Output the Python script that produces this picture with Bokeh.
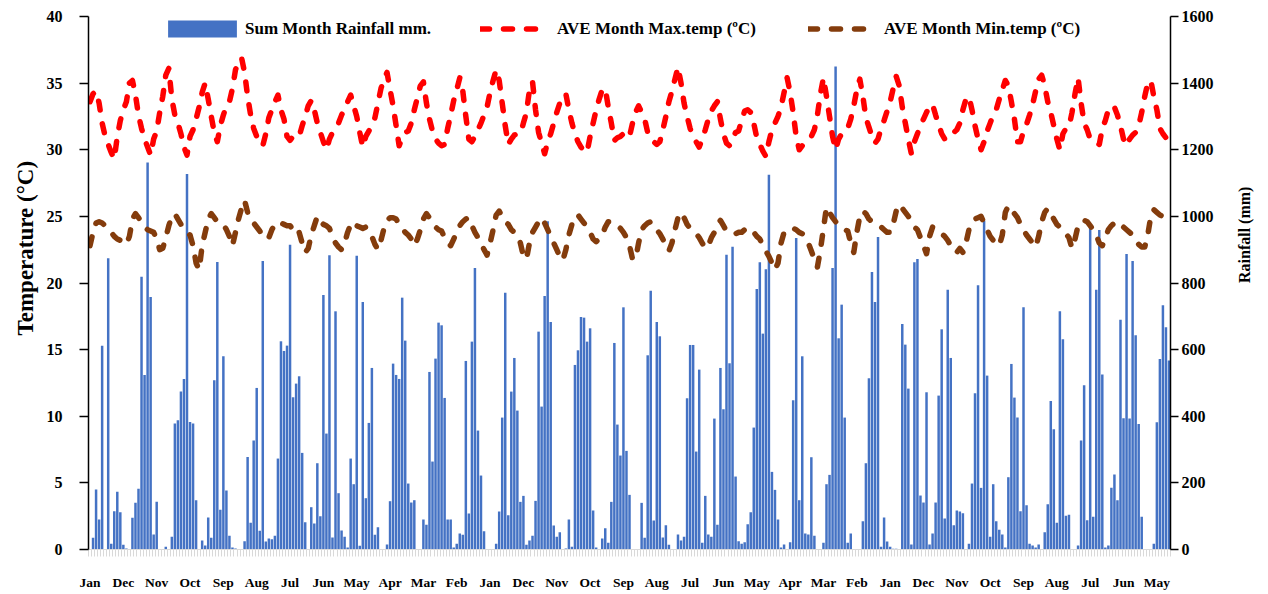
import math
from bokeh.plotting import figure
from bokeh.models import (Range1d, LinearAxis, FixedTicker, Legend, LegendItem,
                          ColumnDataSource, Title)
from bokeh.embed import file_html
from bokeh.resources import INLINE

# Monthly rainfall sum (mm), 357 months
rain = [
    0, 35, 180, 90, 612, 0, 874, 17, 115, 173, 112, 14,
    3, 0, 95, 140, 182, 819, 524, 1162, 758, 45, 143, 0,
    0, 8, 0, 38, 378, 388, 474, 512, 1127, 383, 378, 148,
    0, 27, 12, 96, 35, 508, 863, 119, 580, 177, 41, 6,
    3, 0, 0, 25, 278, 80, 327, 485, 56, 866, 24, 33,
    31, 41, 273, 625, 596, 612, 915, 457, 498, 520, 290, 82,
    0, 127, 78, 259, 100, 764, 348, 883, 36, 715, 169, 57,
    38, 6, 273, 196, 882, 11, 743, 154, 380, 545, 44, 67,
    0, 0, 15, 145, 558, 524, 512, 756, 627, 198, 141, 148,
    0, 0, 90, 74, 533, 264, 573, 681, 673, 455, 90, 90,
    6, 17, 48, 44, 566, 108, 624, 845, 357, 222, 55, 0,
    0, 0, 17, 114, 396, 771, 103, 474, 575, 417, 143, 161,
    14, 27, 41, 146, 654, 429, 761, 985, 683, 72, 38, 52,
    0, 3, 90, 8, 554, 598, 698, 696, 624, 664, 117, 6,
    0, 33, 64, 20, 143, 620, 375, 282, 727, 296, 164, 0,
    0, 0, 140, 35, 583, 777, 87, 683, 640, 36, 73, 14,
    1, 0, 45, 27, 38, 454, 614, 614, 294, 540, 20, 161,
    45, 38, 393, 74, 545, 421, 885, 559, 909, 219, 25, 17,
    22, 76, 112, 366, 782, 862, 648, 841, 1125, 233, 179, 90,
    6, 15, 0, 22, 448, 935, 148, 580, 48, 45, 277, 41,
    0, 0, 20, 196, 224, 845, 1450, 634, 735, 396, 20, 48,
    0, 0, 0, 85, 259, 514, 833, 743, 938, 8, 96, 24,
    8, 2, 2, 0, 677, 615, 483, 15, 862, 872, 162, 141,
    472, 15, 48, 141, 462, 661, 93, 780, 575, 73, 117, 114,
    109, 0, 17, 198, 469, 793, 185, 987, 522, 38, 196, 85,
    59, 45, 6, 217, 557, 456, 396, 115, 727, 133, 17, 12,
    6, 15, 0, 52, 136, 446, 361, 80, 715, 631, 101, 104,
    0, 0, 12, 327, 493, 88, 964, 98, 780, 959, 525, 6,
    12, 185, 225, 148, 690, 394, 887, 393, 866, 643, 377, 98,
    0, 0, 0, 17, 382, 572, 733, 667, 567,
]

# Monthly average maximum temperature (deg C)
tmax = [
    33.6, 34.2, 34.4, 33.5, 32.0, 31.0, 30.4, 29.8, 29.3, 31.0, 32.2, 33.0,
    33.6, 35.0, 35.2, 34.1, 32.6, 31.6, 30.8, 30.2, 29.6, 30.8, 31.4, 32.8,
    34.0, 35.6, 36.1, 33.8, 32.6, 32.0, 31.2, 30.2, 29.6, 31.0, 31.5, 32.3,
    33.2, 34.3, 35.0, 33.8, 32.5, 31.3, 30.6, 31.8, 32.6, 33.3, 33.6, 34.6,
    36.0, 36.6, 36.9, 35.8, 34.0, 32.6, 31.6, 31.0, 30.5, 30.3, 31.2, 32.4,
    33.0, 33.6, 34.1, 33.0, 32.3, 31.0, 30.7, 31.0, 31.1, 31.0, 31.8, 32.5,
    33.3, 33.7, 33.0, 32.0, 31.3, 30.6, 30.0, 30.8, 31.3, 31.6, 32.0, 32.6,
    33.1, 33.6, 34.1, 33.3, 32.5, 31.3, 30.2, 31.0, 31.4, 31.8, 32.4, 33.5,
    34.6, 35.3, 35.8, 34.5, 33.3, 31.8, 30.3, 30.9, 31.3, 31.4, 32.0, 33.0,
    33.9, 34.8, 35.1, 33.5, 32.3, 31.4, 30.8, 30.5, 30.3, 30.4, 31.6, 32.6,
    33.7, 34.5, 35.4, 34.4, 32.5, 30.8, 30.6, 31.0, 31.5, 32.0, 32.6, 33.2,
    34.3, 35.2, 36.0, 35.2, 33.5, 31.8, 30.4, 30.8, 31.1, 31.2, 31.2, 32.0,
    32.8, 34.5, 35.1, 33.0, 31.3, 30.5, 29.7, 30.6, 31.2, 32.0, 32.8, 33.5,
    34.0, 34.2, 33.0, 32.0, 31.2, 30.6, 30.2, 29.9, 29.8, 31.0, 32.0, 33.0,
    33.8, 34.5, 34.6, 33.2, 32.0, 30.7, 30.9, 31.0, 31.2, 31.3, 31.0, 32.0,
    32.8, 33.3, 32.8, 32.3, 31.3, 30.8, 30.6, 30.4, 30.6, 31.5, 32.5, 33.6,
    34.4, 35.3, 36.2, 35.0, 33.5, 32.5, 31.6, 31.0, 30.6, 30.2, 30.8, 31.5,
    32.3, 32.9, 33.3, 33.6, 32.3, 31.2, 30.5, 30.3, 30.8, 31.3, 31.4, 32.2,
    32.9, 33.0, 32.8, 32.0, 30.9, 30.4, 29.9, 29.5, 30.6, 31.5, 32.0, 32.5,
    33.2, 34.3, 35.4, 34.3, 32.8, 31.0, 30.0, 30.3, 30.6, 30.8, 31.0, 31.5,
    32.6, 34.2, 35.4, 34.0, 32.5, 31.0, 30.0, 30.8, 31.2, 31.5, 31.6, 32.3,
    33.3, 34.5, 35.3, 34.0, 32.4, 31.7, 31.0, 30.5, 30.8, 31.6, 32.2, 32.9,
    33.6, 34.6, 35.5, 34.8, 33.2, 32.0, 30.8, 29.7, 30.6, 31.2, 31.8, 32.3,
    32.8, 33.3, 33.4, 32.6, 31.9, 31.2, 30.8, 30.8, 31.1, 31.3, 31.5, 32.0,
    33.0, 33.8, 34.0, 33.0, 31.8, 30.8, 30.0, 30.6, 31.4, 32.0, 32.6, 33.0,
    33.8, 34.5, 35.2, 34.8, 33.6, 32.3, 30.6, 30.6, 31.4, 31.9, 32.6, 33.4,
    34.4, 35.3, 35.6, 34.8, 33.6, 32.8, 31.8, 30.8, 30.0, 31.2, 31.6, 31.7,
    32.8, 34.2, 35.4, 33.5, 32.0, 31.5, 30.8, 30.6, 30.5, 30.4, 31.6, 32.2,
    33.0, 33.3, 33.2, 32.6, 31.8, 30.8, 30.3, 30.8, 31.1, 31.3, 31.8, 32.8,
    34.0, 35.0, 35.2, 34.0, 33.0, 31.6, 31.2, 30.9, 30.8,
]

# Monthly average minimum temperature (deg C)
tmin = [
    22.8, 23.8, 24.5, 24.6, 24.5, 24.3, 24.0, 23.8, 23.5, 23.3, 23.2, 23.0,
    22.9, 23.5, 24.8, 25.2, 24.9, 24.6, 24.2, 24.0, 23.9, 23.8, 23.3, 22.5,
    22.6, 23.4, 24.3, 25.0, 25.2, 24.8, 24.4, 24.1, 23.8, 23.6, 22.8, 21.5,
    21.0, 22.8, 23.8, 24.8, 25.2, 24.9, 24.6, 24.5, 24.4, 24.0, 23.5, 22.8,
    23.8, 24.8, 25.6, 26.2, 25.3, 24.9, 24.5, 24.2, 23.9, 23.5, 23.3, 23.4,
    24.0, 24.4, 24.6, 24.5, 24.4, 24.3, 24.3, 24.0, 23.6, 23.8, 23.0, 22.3,
    22.6, 23.6, 24.3, 25.0, 24.6, 24.4, 24.3, 24.1, 23.5, 23.0, 22.7, 22.5,
    23.0, 23.8, 24.4, 24.6, 24.3, 24.2, 24.1, 24.2, 24.0, 23.5, 22.9, 22.5,
    23.2, 24.1, 24.7, 24.9, 24.9, 24.8, 24.4, 24.1, 23.8, 23.6, 23.3, 22.8,
    23.3, 24.0, 24.8, 25.2, 24.9, 24.6, 24.2, 24.0, 23.9, 23.4, 23.0, 22.8,
    23.3, 23.8, 24.3, 24.6, 24.8, 24.9, 24.3, 23.8, 23.4, 23.0, 22.5, 22.1,
    23.0, 24.0, 25.1, 25.4, 25.0, 24.6, 24.4, 24.0, 23.8, 23.6, 23.0, 22.0,
    21.8, 23.0, 23.8, 24.2, 24.6, 24.9, 24.5, 24.0, 23.5, 23.0, 22.5, 22.0,
    21.7, 22.5, 23.6, 24.4, 25.0, 25.1, 24.8, 24.5, 24.2, 23.8, 23.3, 23.1,
    23.3, 23.6, 24.2, 24.6, 24.6, 24.5, 24.3, 24.1, 23.8, 23.4, 22.8, 21.8,
    21.8, 23.0, 24.0, 24.3, 24.5, 24.6, 24.4, 24.0, 23.7, 23.3, 22.8, 22.4,
    23.0, 24.0, 24.9, 25.3, 24.9, 24.4, 24.1, 23.9, 23.7, 23.4, 23.0, 22.6,
    22.8, 23.4, 23.8, 24.4, 24.7, 24.3, 23.9, 23.8, 23.7, 23.7, 23.8, 23.8,
    24.0, 24.1, 24.1, 23.8, 23.5, 23.3, 22.8, 22.4, 22.0, 21.5, 21.0, 21.5,
    23.0, 23.8, 24.0, 24.1, 24.1, 24.0, 23.8, 23.7, 23.5, 23.0, 22.4, 21.8,
    21.2, 22.5, 24.1, 25.7, 25.3, 24.9, 24.6, 24.4, 24.2, 24.0, 23.9, 23.0,
    22.3, 23.8, 25.0, 25.4, 25.2, 24.8, 24.6, 24.5, 24.4, 24.2, 24.0, 23.8,
    23.8, 24.4, 25.4, 25.9, 25.6, 25.3, 25.0, 24.6, 24.2, 24.0, 23.4, 22.8,
    22.2, 23.5, 24.2, 24.1, 23.9, 23.7, 23.5, 23.2, 22.8, 22.4, 22.3, 22.6,
    22.3, 23.0, 24.0, 24.5, 24.8, 24.9, 25.0, 24.5, 24.0, 23.5, 23.2, 23.0,
    22.8, 23.6, 25.3, 25.8, 25.6, 25.2, 24.9, 24.4, 24.0, 23.6, 23.3, 23.0,
    22.7, 23.5, 24.6, 25.3, 25.6, 25.2, 24.8, 24.4, 24.2, 24.0, 23.7, 23.4,
    22.6, 23.3, 24.3, 24.6, 24.7, 24.6, 24.3, 24.0, 23.6, 23.0, 22.8, 23.4,
    24.0, 24.3, 24.5, 24.6, 24.5, 24.2, 24.0, 23.8, 23.6, 23.2, 22.9, 22.7,
    22.7, 23.6, 25.0, 25.5, 25.3, 25.1, 25.0, 25.0, 24.9,
]

# x-axis labels, one every 11 months starting at the first month
tick_labels = ["Jan", "Dec", "Nov", "Oct", "Sep", "Aug", "Jul", "Jun", "May",
               "Apr", "Mar", "Feb", "Jan", "Dec", "Nov", "Oct", "Sep", "Aug",
               "Jul", "Jun", "May", "Apr", "Mar", "Feb", "Jan", "Dec", "Nov",
               "Oct", "Sep", "Aug", "Jul", "Jun", "May"]
label_step = 11
temp_ticks = [0, 5, 10, 15, 20, 25, 30, 35, 40]
rain_ticks = [0, 200, 400, 600, 800, 1000, 1200, 1400, 1600]

FONT = "Liberation Serif"
n = len(rain)
x = list(range(n))

p = figure(width=1268, height=594, output_backend="svg", toolbar_location=None,
           x_range=Range1d(-0.5, n - 0.5), y_range=Range1d(0, 40),
           min_border_left=88, min_border_right=98, min_border_top=16,
           min_border_bottom=45)
p.extra_y_ranges = {"rain": Range1d(0, 1600)}
p.xgrid.visible = False
p.ygrid.visible = False
p.outline_line_color = None
p.background_fill_color = "white"

src = ColumnDataSource(dict(x=x, rain=rain, tmax=tmax, tmin=tmin))
bars = p.vbar(x="x", top="rain", width=0.82, source=src, y_range_name="rain",
              fill_color="#4472C4", line_color=None)
lmax = p.line("x", "tmax", source=src, line_color="#FF0000", line_width=5.5,
              line_dash="9 14", line_cap="round", line_join="round")
lmin = p.line("x", "tmin", source=src, line_color="#843C0C", line_width=5.5,
              line_dash="9 14", line_cap="round", line_join="round")

# x axis
xa = p.xaxis[0]
xa.ticker = FixedTicker(ticks=[label_step * k for k in range(len(tick_labels))],
                        minor_ticks=[i - 0.5 for i in range(n + 1)])
xa.major_label_overrides = {label_step * k: lab for k, lab in enumerate(tick_labels)}
xa.axis_line_color = "#d9d9d9"
xa.major_tick_line_color = None
xa.minor_tick_line_color = "#d9d9d9"
xa.minor_tick_in = 0
xa.minor_tick_out = 7
xa.major_label_standoff = 18
xa.major_label_text_font = FONT
xa.major_label_text_font_style = "bold"
xa.major_label_text_font_size = "13.5px"
xa.major_label_text_color = "black"

# left axis (temperature)
ya = p.yaxis[0]
ya.ticker = FixedTicker(ticks=temp_ticks)
ya.major_label_text_font = FONT
ya.major_label_text_font_style = "bold"
ya.major_label_text_font_size = "16px"
ya.major_label_text_color = "black"
ya.major_label_standoff = 17
ya.axis_line_width = 1.5
ya.major_tick_line_width = 1.5
ya.major_tick_in = 0
ya.major_tick_out = 9
ya.minor_tick_line_color = None

# right axis (rainfall)
ra = LinearAxis(y_range_name="rain", ticker=FixedTicker(ticks=rain_ticks),
                axis_label="Rainfall (mm)")
ra.axis_label_text_font = FONT
ra.axis_label_text_font_style = "bold"
ra.axis_label_text_font_size = "16px"
ra.axis_label_text_color = "black"
ra.axis_label_standoff = 28
ra.major_label_text_font = FONT
ra.major_label_text_font_style = "bold"
ra.major_label_text_font_size = "16px"
ra.major_label_text_color = "black"
ra.major_label_standoff = 3
ra.axis_line_width = 1.5
ra.major_tick_line_width = 1.5
ra.major_tick_in = 0
ra.major_tick_out = 8
ra.minor_tick_line_color = None
try:
    ra.axis_label_orientation = math.pi / 2
except Exception:
    pass
p.add_layout(ra, "right")

# left title: reads bottom-to-top, starting at the same height as the reference
ttl = Title(text="Temperature (°C)", align="left", offset=214,
            text_font=FONT, text_font_style="bold", text_font_size="23px",
            text_color="black")
try:
    ttl.standoff = 12
except Exception:
    pass
p.add_layout(ttl, "left")

def make_legend(label, rend, loc, gw, gh, standoff):
    return Legend(items=[LegendItem(label=label, renderers=[rend])],
                  location=loc, orientation="horizontal",
                  glyph_width=gw, glyph_height=gh, label_standoff=standoff,
                  padding=0, margin=0, spacing=0,
                  border_line_alpha=0, background_fill_alpha=0,
                  label_text_font=FONT, label_text_font_style="bold",
                  label_text_font_size="17px", label_height=17,
                  label_text_color="black")

p.add_layout(make_legend("Sum Month Rainfall mm.", bars, (71, 510), 86, 21, 0))
p.add_layout(make_legend("AVE Month Max.temp (ºC)", lmax, (392, 510), 65, 21, 12))
p.add_layout(make_legend("AVE Month Min.temp (ºC)", lmin, (720, 510), 65, 21, 11))

open("out.html", "w").write(file_html(p, INLINE))
